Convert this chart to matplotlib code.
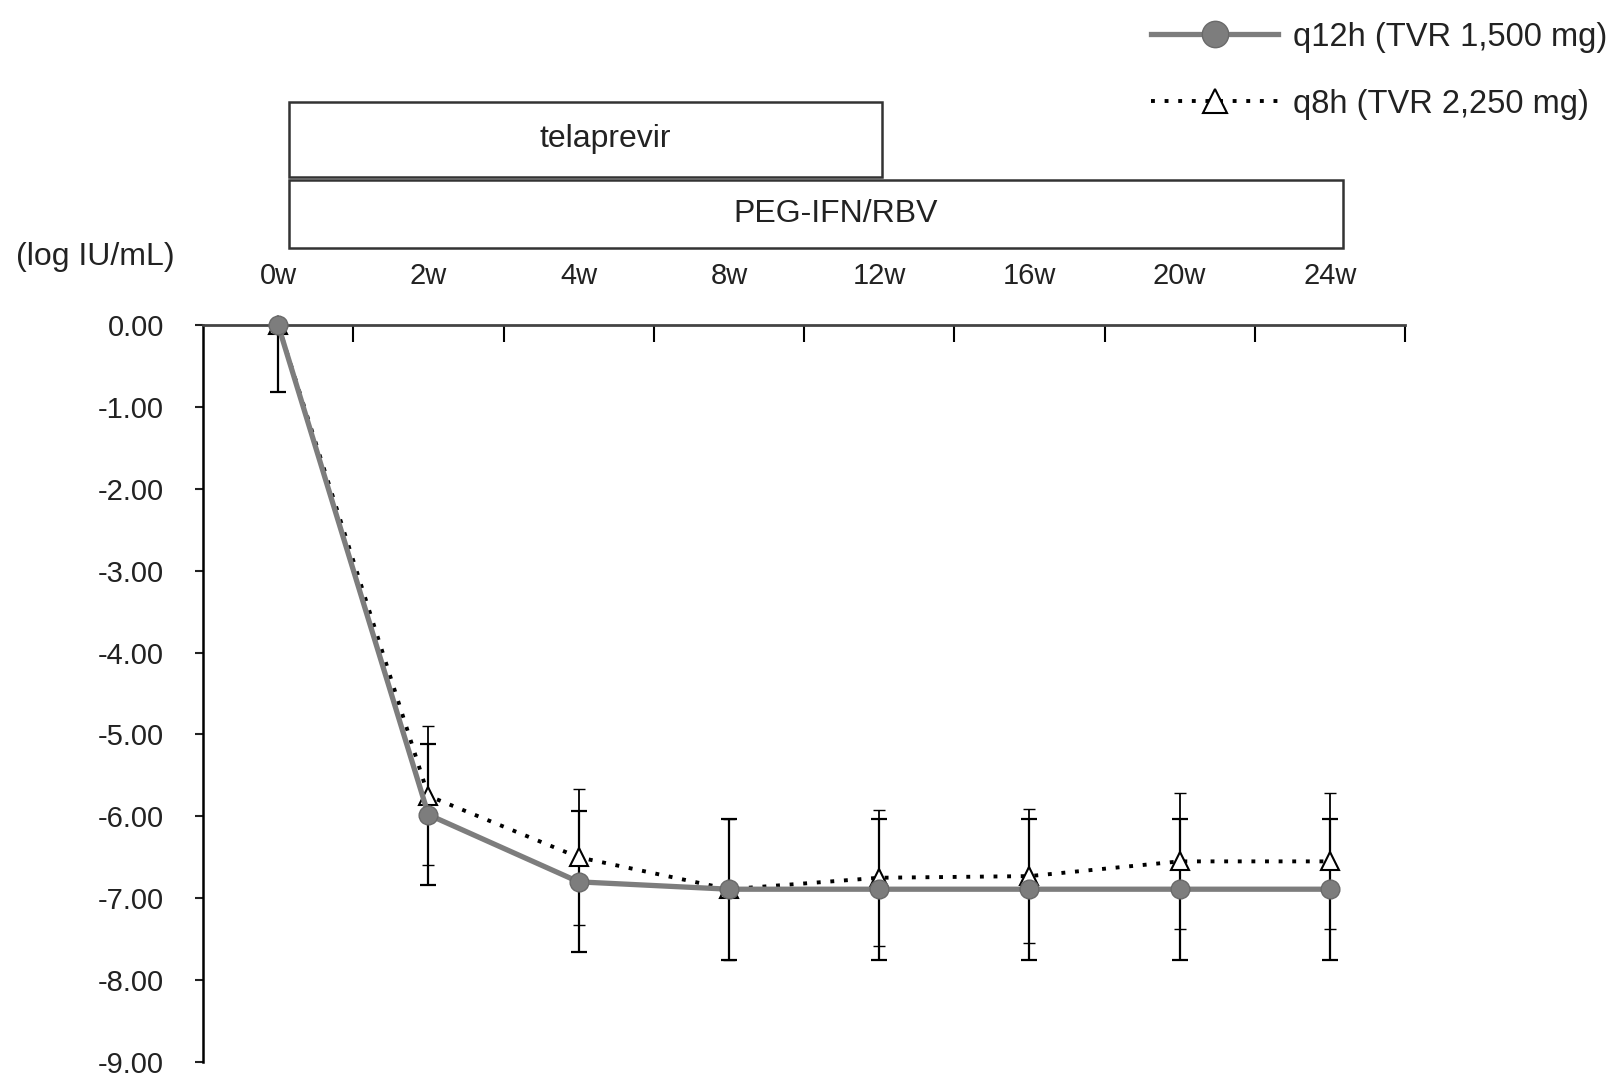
import numpy as np
import matplotlib
matplotlib.use('Agg')
import matplotlib.pyplot as plt
from matplotlib.patches import Rectangle
from matplotlib.lines import Line2D

plt.rcParams['font.family'] = ['Liberation Sans', 'DejaVu Sans']

# datos (log IU/mL)
weeks = ['0w', '2w', '4w', '8w', '12w', '16w', '20w', '24w']
q12h_mean = [0.00, -5.98, -6.80, -6.89, -6.89, -6.89, -6.89, -6.89]
q12h_err_low = [0.82, 0.86, 0.86, 0.86, 0.86, 0.86, 0.86, 0.86]
q12h_err_up = [0.00, 0.86, 0.86, 0.86, 0.86, 0.86, 0.86, 0.86]
q8h_mean = [0.00, -5.75, -6.50, -6.89, -6.75, -6.73, -6.55, -6.55]
q8h_err = [0.00, 0.85, 0.83, 0.86, 0.83, 0.82, 0.83, 0.83]
yticks = [0, -1, -2, -3, -4, -5, -6, -7, -8, -9]
label_q12h = 'q12h (TVR 1,500 mg)'
label_q8h = 'q8h (TVR 2,250 mg)'

W, H = 1614, 1078
fig = plt.figure(figsize=(W / 100, H / 100), dpi=100)
ax = fig.add_axes([203 / W, 1 - 1062 / H, (1405 - 203) / W, (1062 - 325) / H])

x = np.arange(len(weeks))
dots = (0, (1, 2.5))

# q8h: linea punteada con triangulos blancos
ax.errorbar(x, q8h_mean, yerr=q8h_err, fmt='none', ecolor='black',
            elinewidth=1.3, capsize=4.5, capthick=1.0, zorder=2)
ax.plot(x, q8h_mean, color='black', lw=2.8, linestyle=dots,
        marker='^', markersize=13, markerfacecolor='white',
        markeredgecolor='black', markeredgewidth=1.5, zorder=4, clip_on=False)

# q12h: linea gris continua con circulos
ax.errorbar(x, q12h_mean, yerr=[q12h_err_low, q12h_err_up], fmt='none',
            ecolor='black', elinewidth=1.6, capsize=5.5, capthick=1.6, zorder=3)
ax.plot(x, q12h_mean, color='#7d7d7d', lw=3.8, marker='o', markersize=13.5,
        markerfacecolor='#7d7d7d', markeredgecolor='#6a6a6a', zorder=5,
        clip_on=False)

ax.set_xlim(-0.5, 7.5)
ax.set_ylim(-9, 0)

for s in ['right', 'bottom']:
    ax.spines[s].set_visible(False)
ax.spines['left'].set_linewidth(1.8)
ax.spines['top'].set_linewidth(2.0)
ax.spines['top'].set_color('#444444')

ax.set_yticks(yticks)
ax.set_yticklabels([f'{v:.2f}' for v in yticks])
ax.tick_params(axis='y', direction='out', length=6, width=1.5, pad=22,
               labelsize=21, colors='#222222')

ax.xaxis.tick_top()
ax.set_xticks(np.arange(0.5, 7.6, 1.0))
ax.set_xticklabels([])
ax.set_xticks(x, minor=True)
ax.set_xticklabels(weeks, minor=True)
ax.tick_params(axis='x', which='major', direction='in', length=12, width=1.5,
               top=True, bottom=False)
ax.tick_params(axis='x', which='minor', length=0, pad=25, labelsize=21,
               top=True, bottom=False, colors='#222222')

fig.text(16 / W, 1 - 257 / H, '(log IU/mL)', fontsize=23, ha='left',
         va='center', color='#222222')

# barras de tratamiento (x0, x1, y0, y1, centro del texto en pixeles)
bars = [('telaprevir', 289, 882, 102, 177, 605),
        ('PEG-IFN/RBV', 289, 1343, 180, 248, 836)]
for name, x0, x1, y0, y1, xc in bars:
    fig.patches.append(Rectangle((x0 / W, 1 - y1 / H), (x1 - x0) / W, (y1 - y0) / H,
                                 transform=fig.transFigure, facecolor='white',
                                 edgecolor='#333333', lw=1.8))
    fig.text(xc / W, 1 - (y0 + y1) / 2 / H, name, fontsize=23, ha='center',
             va='center', color='#222222')

handles = [
    Line2D([], [], color='#7d7d7d', lw=3.8, marker='o', markersize=19,
           markerfacecolor='#7d7d7d', markeredgecolor='#6a6a6a'),
    Line2D([], [], color='black', lw=2.8, linestyle=dots, marker='^',
           markersize=17, markerfacecolor='white', markeredgecolor='black',
           markeredgewidth=1.5),
]
fig.legend(handles, [label_q12h, label_q8h], loc='upper right',
           bbox_to_anchor=(1630 / W, 1 + 1 / H), frameon=False, fontsize=23.5,
           handlelength=3.9, labelspacing=1.1, handletextpad=0.45,
           borderpad=0.2, labelcolor='#222222')

fig.savefig('out.png', dpi=100)
